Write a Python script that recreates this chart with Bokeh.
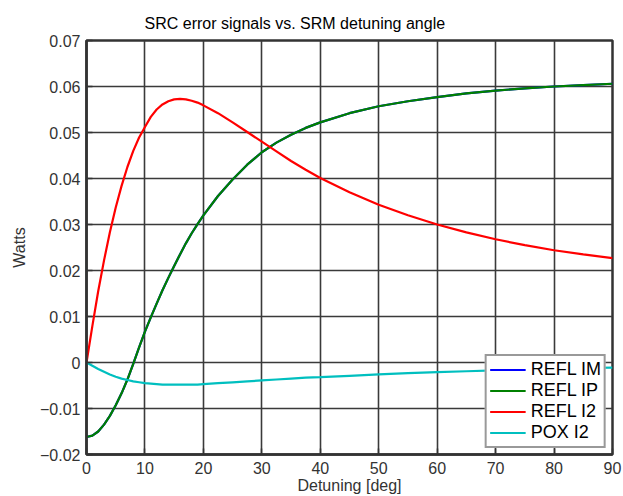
from bokeh.plotting import figure
from bokeh.models import Range1d, FixedTicker, Legend, LegendItem
from bokeh.embed import file_html
from bokeh.resources import INLINE

# ---- data ----
detuning = [0, 1, 2, 3, 4, 5, 6, 7, 8, 9, 10, 11, 12, 13, 14, 15, 16, 17, 18, 19, 20,
            22.5, 25, 27.5, 30, 32.5, 35, 37.5, 40, 45, 50, 55, 60, 65, 70, 75, 80, 85, 90]
refl_ip = [-0.0162, -0.0159, -0.0150, -0.0135, -0.0116, -0.0093, -0.0067, -0.0037, -0.0003,
           0.0033, 0.0067, 0.0098, 0.0128, 0.0157, 0.0184, 0.0210, 0.0235, 0.0259, 0.0281,
           0.0301, 0.0320, 0.0362, 0.0398, 0.0430, 0.0457, 0.0478, 0.0495, 0.0510, 0.0522,
           0.0542, 0.0557, 0.0568, 0.0577, 0.0585, 0.0591, 0.0596, 0.0600, 0.0603, 0.0606]
refl_im = list(refl_ip)
refl_i2 = [0.0, 0.0079, 0.0155, 0.0222, 0.0283, 0.0337, 0.0384, 0.0425, 0.0460, 0.0489,
           0.0512, 0.0534, 0.0550, 0.0561, 0.0568, 0.0572, 0.0573, 0.0572, 0.0569, 0.0565,
           0.0559, 0.0542, 0.0522, 0.0501, 0.0480, 0.0459, 0.0438, 0.0419, 0.0401, 0.0370,
           0.0343, 0.0320, 0.0300, 0.0283, 0.0268, 0.0255, 0.0244, 0.0235, 0.0227]
pox_i2 = [0.0, -0.0007, -0.0014, -0.0020, -0.0026, -0.0031, -0.0035, -0.0038, -0.0041,
          -0.0043, -0.0045, -0.0046, -0.0047, -0.0048, -0.0048, -0.0048, -0.0048, -0.0048,
          -0.0048, -0.0048, -0.0047, -0.0045, -0.0043, -0.0041, -0.0039, -0.0037, -0.0035,
          -0.0033, -0.0032, -0.0029, -0.0026, -0.0023, -0.0021, -0.0019, -0.0017, -0.0015,
          -0.0014, -0.0012, -0.0011]

series_names = ["REFL IM", "REFL IP", "REFL I2", "POX I2"]
series_colors = ["#0000ff", "#008000", "#ff0000", "#00bfbf"]

x_ticks = [0, 10, 20, 30, 40, 50, 60, 70, 80, 90]
y_ticks = [-0.02, -0.01, 0.0, 0.01, 0.02, 0.03, 0.04, 0.05, 0.06, 0.07]
y_tick_labels = ["\u22120.02", "\u22120.01", "0", "0.01", "0.02", "0.03", "0.04", "0.05", "0.06", "0.07"]

FONT = "Liberation Sans"
DARK = "#333333"

p = figure(width=623, height=496, output_backend="svg", toolbar_location=None,
           x_range=Range1d(0, 90), y_range=Range1d(-0.02, 0.07),
           min_border_left=86, min_border_right=11, min_border_top=40, min_border_bottom=41,
           title="SRC error signals vs. SRM detuning angle")
p.background_fill_color = "white"
p.border_fill_color = "white"
p.outline_line_color = DARK
p.outline_line_width = 2.5

p.title.text_font = FONT
p.title.text_font_size = "16px"
p.title.text_font_style = "normal"
p.title.text_color = "black"
p.title.align = "left"
p.title.offset = 58
p.title.standoff = 18

for ax in (p.xaxis[0], p.yaxis[0]):
    ax.axis_line_color = DARK
    ax.axis_line_width = 2.5
    ax.major_tick_in = 6
    ax.major_tick_out = 0
    ax.major_tick_line_color = DARK
    ax.major_tick_line_width = 1.5
    ax.minor_tick_line_color = None
    ax.major_label_text_font = FONT
    ax.major_label_text_font_size = "16px"
    ax.major_label_text_color = DARK
    ax.axis_label_text_font = FONT
    ax.axis_label_text_font_size = "16px"
    ax.axis_label_text_font_style = "normal"
    ax.axis_label_text_color = DARK

p.xaxis.ticker = FixedTicker(ticks=x_ticks)
p.yaxis.ticker = FixedTicker(ticks=y_ticks)
p.yaxis.major_label_overrides = {t: s for t, s in zip(y_ticks, y_tick_labels)}
p.xaxis.axis_label = "Detuning [deg]"
p.yaxis.axis_label = "Watts"
p.xaxis.major_label_standoff = 7
p.xaxis.axis_label_standoff = 0
p.yaxis.major_label_standoff = 6
p.yaxis.axis_label_standoff = 9

p.grid.grid_line_color = "#3a3a3a"
p.grid.grid_line_width = 1.6
p.grid.grid_line_alpha = 1.0

items = []
for name, ys, col in zip(series_names, [refl_im, refl_ip, refl_i2, pox_i2], series_colors):
    r = p.line(detuning, ys, line_color=col, line_width=2.2)
    items.append(LegendItem(label=name, renderers=[r]))

legend = Legend(items=items, location="bottom_right")
legend.margin = 6
legend.padding = 3
legend.spacing = 0
legend.label_height = 19
legend.glyph_height = 19
legend.glyph_width = 36
legend.label_standoff = 5
legend.label_text_font = FONT
legend.label_text_font_size = "18px"
legend.label_text_color = "black"
legend.border_line_color = DARK
legend.border_line_width = 2
legend.background_fill_color = "white"
legend.background_fill_alpha = 1.0
p.add_layout(legend)

open("out.html", "w").write(file_html(p, INLINE))
